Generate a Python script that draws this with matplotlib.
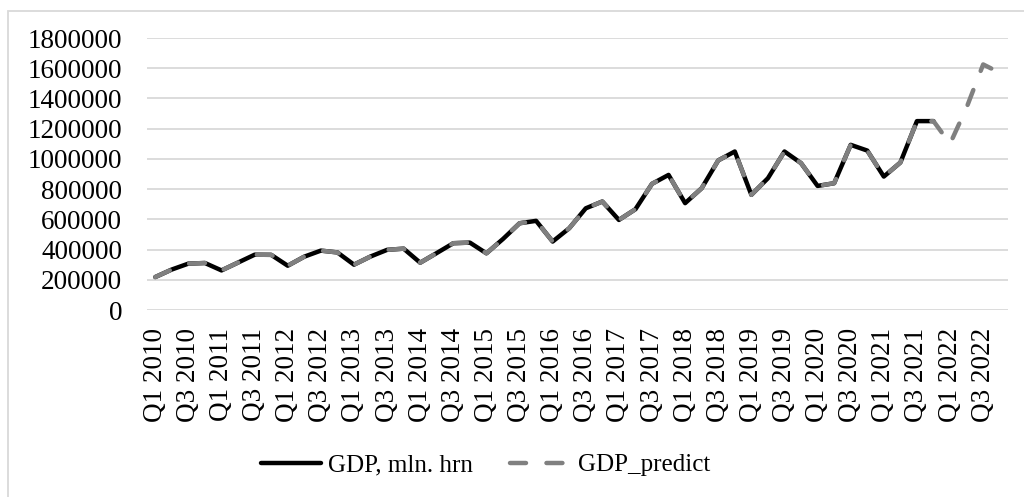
import matplotlib
matplotlib.use('Agg')
import matplotlib.pyplot as plt
from matplotlib.patches import Rectangle

# quarters Q1 2010 .. Q4 2022
years = list(range(2010, 2023))
quarters = [f'Q{q} {y}' for y in years for q in range(1, 5)]

# actual GDP, mln. hrn (Q1 2010 .. Q4 2021)
gdp = [218000, 268000, 307000, 311000, 262000, 314000, 366000, 365000,
       293000, 353000, 393000, 381000, 300000, 354000, 398000, 406000,
       313000, 377000, 442000, 446000, 375000, 470000, 574000, 590000,
       453000, 541000, 673000, 718000, 596000, 667000, 835000, 894000,
       707000, 806000, 990000, 1049000, 762000, 872000, 1049000, 972000,
       821000, 839000, 1093000, 1055000, 883000, 976000, 1250000, 1250000]

# predicted values for 2022 (predict line follows actual before that)
gdp_forecast = [1100000, 1340000, 1625000, 1570000]
gdp_predict = gdp + gdp_forecast

plt.rcParams['font.family'] = ['Liberation Serif', 'DejaVu Serif']

fig = plt.figure(figsize=(10.24, 4.97), dpi=100)
ax = fig.add_axes([147 / 1024, 1 - 310 / 497, 861 / 1024, 272 / 497])

x_all = list(range(len(gdp_predict)))
ax.plot(x_all[:len(gdp)], gdp, color='black', lw=3.2,
        solid_capstyle='round', solid_joinstyle='round', label='GDP, mln. hrn', zorder=3)
ax.plot(x_all, gdp_predict, color='#808080', lw=3.2, linestyle=(0, (3.6, 4.6)),
        dash_capstyle='round', dash_joinstyle='round', label='GDP_predict', zorder=4)

ax.set_xlim(-0.5, len(quarters) - 0.5)
ax.set_ylim(0, 1800000)
ax.set_yticks(range(0, 1800001, 200000))
ax.set_yticklabels([str(v) for v in range(0, 1800001, 200000)], fontsize=19.5)
ax.set_xticks(x_all[::2])
ax.set_xticklabels(quarters[::2], rotation=90, fontsize=19.5)
ax.tick_params(axis='y', length=0, pad=18)
ax.tick_params(axis='x', length=0, pad=13)
ax.grid(axis='y', color='#d9d9d9', lw=1.3)
ax.set_axisbelow(True)
for s in ax.spines.values():
    s.set_visible(False)

fig.legend(loc='center', bbox_to_anchor=(0.474, 1 - 465 / 497), ncol=2,
           frameon=False, fontsize=18, handlelength=2.4, handletextpad=0.3,
           columnspacing=1.5)

# light chart-area border
fig.patches.append(Rectangle((8 / 1024, -0.1), 1.2, 1.1 - 11 / 497,
                             transform=fig.transFigure, fill=False,
                             edgecolor='#d9d9d9', lw=1.3))

fig.savefig('out.png', dpi=100)
